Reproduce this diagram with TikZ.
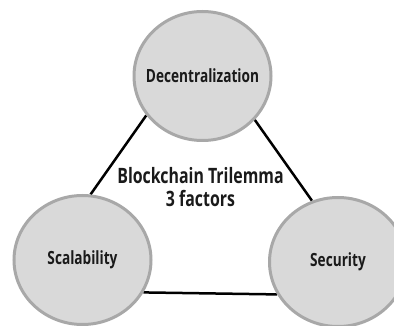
\documentclass[tikz,border=0pt]{standalone}
\usepackage{fontspec}
\setmainfont{Open Sans}[FakeStretch=0.75]
\usetikzlibrary{shapes.geometric,backgrounds}
\definecolor{ringgray}{RGB}{168,168,168}
\definecolor{fillgray}{RGB}{217,217,217}
\definecolor{textblack}{RGB}{26,26,26}
\newcommand{\zerowidthlabel}[1]{\makebox[0pt][c]{#1}}
\begin{document}
\begin{tikzpicture}[x=1pt,y=-1pt,
  factor/.style={ellipse, draw=ringgray, fill=fillgray, line width=3pt,
    minimum width=137pt, minimum height=129pt, inner sep=0pt,
    font=\bfseries\fontsize{18.2}{20}\selectfont, text=textblack},
  link/.style={line width=2.5pt, draw=black},
  title/.style={align=center, font=\bfseries\fontsize{21.2}{22.5}\selectfont, text=textblack}]
\useasboundingbox (0,0) rectangle (394,326);
\clip (0,0) rectangle (394,326);
\node[factor] (dec) at (202.5,76) {\zerowidthlabel{Decentralization}};
\node[factor] (sca) at (82.5,260) {\zerowidthlabel{Scalability}};
\node[factor] (sec) at (338,262) {\zerowidthlabel{Security}};
\node[title] (ttl) at (200.5,187) {Blockchain Trilemma\\3 factors};
\begin{scope}[on background layer]
\draw[link] (dec.215) -- (sca.83);
\draw[link] (dec.320) -- (sec.113);
\draw[link] (sca.-28) -- (sec.208);
\end{scope}
\end{tikzpicture}
\end{document}
